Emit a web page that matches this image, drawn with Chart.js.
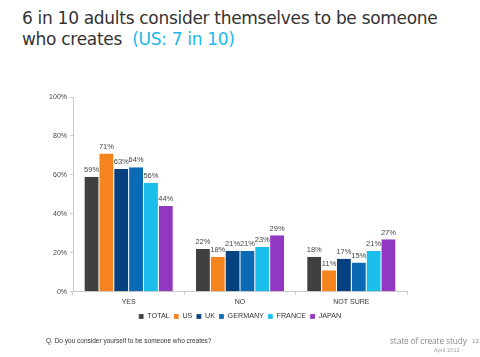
<!DOCTYPE html>
<html><head><meta charset="utf-8">
<script src="https://cdn.jsdelivr.net/npm/chart.js@4"></script>
<style>
html,body{margin:0;padding:0;background:#fff;}
#wrap{position:relative;width:480px;height:357px;overflow:hidden;font-family:"DejaVu Sans",Verdana,sans-serif;}
#title{position:absolute;left:22px;top:8px;font-size:17px;line-height:21px;color:#333;letter-spacing:-0.3px;}
#title span{color:#1BB8E8;}
#q{position:absolute;left:46px;top:337px;font-size:6.5px;color:#333;font-family:"Liberation Sans",Arial,sans-serif;white-space:nowrap;}
#brand{position:absolute;left:390px;top:335px;font-size:8.3px;color:#888;font-family:"Open Sans","DejaVu Sans",sans-serif;white-space:nowrap;letter-spacing:-0.1px;}
#page{position:absolute;left:472px;top:338px;font-size:5.5px;color:#888;}
#date{position:absolute;left:434px;top:347px;font-size:5px;color:#999;white-space:nowrap;}
canvas{position:absolute;left:0;top:0;}
</style></head><body>
<div id="wrap">
<div id="title">6 in 10 adults consider themselves to be someone<br>who creates&nbsp; <span>(US: 7 in 10)</span></div>
<canvas id="c" width="480" height="357"></canvas>
<div id="q">Q. Do you consider yourself to be someone who creates?</div>
<div id="brand">state of create study</div>
<div id="page">12</div>
<div id="date">April 2012</div>
</div>
<script>
const categories = ["YES", "NO", "NOT SURE"];
const seriesNames = ["TOTAL", "US", "UK", "GERMANY", "FRANCE", "JAPAN"];
const total   = [59, 22, 18];
const us      = [71, 18, 11];
const uk      = [63, 21, 17];
const germany = [64, 21, 15];
const france  = [56, 23, 21];
const japan   = [44, 29, 27];
const yTicks = [0, 20, 40, 60, 80, 100];

const colors = ["#404040", "#F5841F", "#05417F", "#0A6AB4", "#1BBDEB", "#9237C2"];
const values = [total, us, uk, germany, france, japan];

const labelPlugin = {
  id: 'barLabels',
  afterDatasetsDraw(chart) {
    const ctx = chart.ctx;
    ctx.save();
    ctx.font = '7.5px "Liberation Sans", Arial, sans-serif';
    ctx.fillStyle = '#444';
    ctx.textAlign = 'center';
    ctx.textBaseline = 'bottom';
    chart.data.datasets.forEach((ds, i) => {
      const meta = chart.getDatasetMeta(i);
      meta.data.forEach((bar, j) => {
        ctx.fillText(ds.data[j] + '%', bar.x, bar.y - 3);
      });
    });
    ctx.restore();
  }
};

new Chart(document.getElementById('c'), {
  type: 'bar',
  data: {
    labels: categories,
    datasets: seriesNames.map((n, i) => ({
      label: n,
      data: values[i],
      backgroundColor: colors[i],
      borderColor: '#ffffff',
      borderWidth: {left: 0.5, right: 0.5, top: 0, bottom: 0},
      categoryPercentage: 0.8,
      barPercentage: 1.0
    }))
  },
  options: {
    responsive: false,
    animation: false,
    layout: {padding: {left: 0, right: 0, top: 97, bottom: 27}},
    plugins: {
      tooltip: {enabled: false},
      legend: {
        position: 'bottom',
        labels: {
          boxWidth: 5, boxHeight: 5, padding: 4,
          color: '#333',
          font: {size: 7.2, family: '"Liberation Sans", Arial, sans-serif'}
        }
      }
    },
    scales: {
      x: {
        grid: {display: true, drawOnChartArea: false, color: '#cccccc', tickLength: 3, offset: true},
        border: {color: '#cccccc'},
        ticks: {color: '#333', font: {size: 7, family: '"Liberation Sans", Arial, sans-serif'}, padding: 3},
        afterFit(s) { s.height = 17; }
      },
      y: {
        min: 0, max: 100,
        afterBuildTicks(s) { s.ticks = yTicks.map(v => ({value: v})); },
        grid: {display: true, drawOnChartArea: false, color: '#cccccc', tickLength: 3},
        border: {color: '#cccccc'},
        ticks: {color: '#444', font: {size: 7, family: '"Liberation Sans", Arial, sans-serif'}, padding: 3,
          callback: v => v + '%'},
        afterFit(s) { s.width = 73; }
      },
      yr: {
        position: 'right',
        display: true,
        min: 0, max: 100,
        grid: {display: false},
        border: {display: false},
        ticks: {display: false},
        afterFit(s) { s.width = 73; }
      }
    }
  },
  plugins: [labelPlugin]
});
</script>
</body></html>
